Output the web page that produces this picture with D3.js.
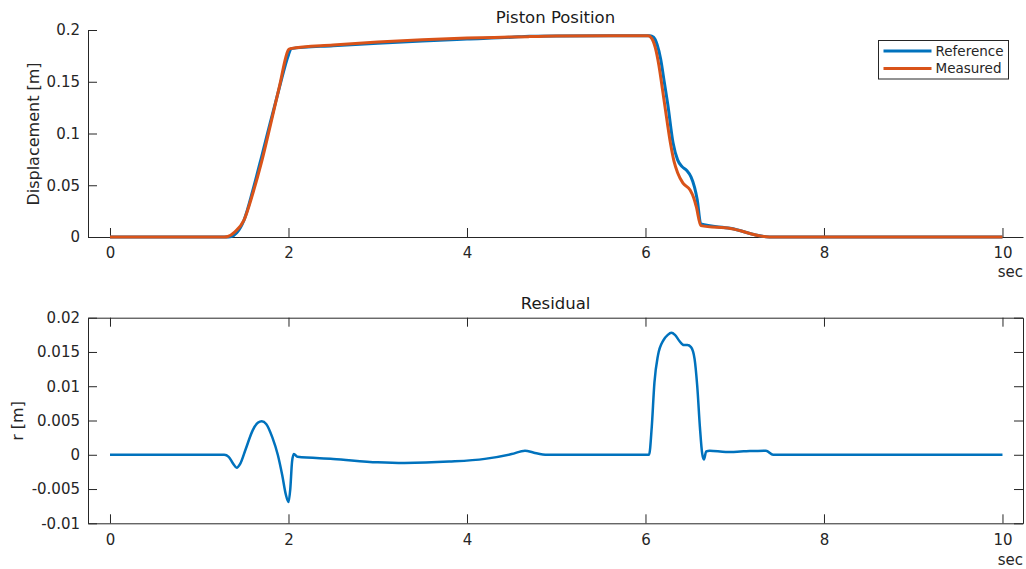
<!DOCTYPE html>
<html>
<head>
<meta charset="utf-8">
<script src="https://cdn.jsdelivr.net/npm/d3@7"></script>
<style>
  body { margin: 0; background: #fff; }
  text { font-family: "DejaVu Sans", sans-serif; fill: #262626; }
  .axis path, .axis line { stroke: #262626; }
  .axis text { font-size: 15px; fill: #262626; }
</style>
</head>
<body>
<div id="chart"></div>
<script>
// reference piston position
var refTime = [0, 1.30, 1.36, 1.42, 1.50, 1.60, 1.70, 1.80, 1.90, 2.00, 2.03, 2.5, 3.0, 3.5, 4.0, 4.5, 4.7, 5.0, 6.05, 6.09, 6.13, 6.17, 6.21, 6.25, 6.31, 6.36, 6.41, 6.46, 6.51, 6.55, 6.58, 6.62, 6.95, 7.39, 10];
var refPos = [0, 0, 0.0005, 0.004, 0.016, 0.045, 0.078, 0.112, 0.145, 0.176, 0.182, 0.1848, 0.1872, 0.1893, 0.1912, 0.1930, 0.1940, 0.1943, 0.1945, 0.193, 0.186, 0.172, 0.150, 0.128, 0.0905, 0.0745, 0.068, 0.0645, 0.058, 0.048, 0.036, 0.0125, 0.0084, 0, 0];

// measured piston position
var measTime = [0, 1.28, 1.32, 1.40, 1.50, 1.60, 1.70, 1.80, 1.90, 2.00, 2.02, 2.5, 3.0, 3.5, 4.0, 4.5, 4.7, 5.0, 6.03, 6.07, 6.11, 6.15, 6.19, 6.22, 6.28, 6.32, 6.36, 6.42, 6.50, 6.54, 6.57, 6.62, 6.95, 7.39, 10];
var measPos = [0, 0, 0.0005, 0.005, 0.016, 0.042, 0.073, 0.109, 0.146, 0.181, 0.182, 0.1855, 0.1884, 0.1905, 0.1922, 0.1932, 0.1936, 0.1942, 0.1945, 0.192, 0.183, 0.166, 0.143, 0.125, 0.0905, 0.073, 0.062, 0.052, 0.0454, 0.038, 0.029, 0.011, 0.0082, 0, 0];

// residual r = reference - measured
var resTime = [0, 1.28, 1.33, 1.38, 1.42, 1.46, 1.52, 1.60, 1.66, 1.70, 1.75, 1.82, 1.88, 1.93, 1.97, 2.00, 2.02, 2.04, 2.06, 2.10, 2.5, 3.0, 3.3, 3.8, 4.2, 4.5, 4.65, 4.75, 4.9, 6.04, 6.07, 6.10, 6.14, 6.20, 6.25, 6.29, 6.33, 6.38, 6.43, 6.47, 6.51, 6.55, 6.58, 6.61, 6.635, 6.655, 6.68, 6.72, 6.9, 7.1, 7.35, 7.43, 10];
var resVal = [0, 0, -0.0003, -0.0013, -0.0019, -0.0013, 0.0008, 0.0036, 0.0047, 0.0049, 0.0045, 0.0025, 0.0000, -0.003, -0.0058, -0.0069, -0.005, -0.001, 0.0001, -0.0003, -0.0006, -0.0011, -0.0012, -0.001, -0.0006, 0.0001, 0.0006, 0.0003, 0, 0, 0.004, 0.0105, 0.0145, 0.0167, 0.0175, 0.0178, 0.0175, 0.0166, 0.016, 0.016, 0.0157, 0.014, 0.010, 0.004, 0.0002, -0.0007, 0.0005, 0.0006, 0.0004, 0.0005, 0.0006, 0, 0];

var xTicks = [0, 2, 4, 6, 8, 10];
var posTicks = [0, 0.05, 0.1, 0.15, 0.2];
var posTickLabels = ['0', '0.05', '0.1', '0.15', '0.2'];
var resTicks = [-0.01, -0.005, 0, 0.005, 0.01, 0.015, 0.02];
var resTickLabels = ['-0.01', '-0.005', '0', '0.005', '0.01', '0.015', '0.02'];
var seriesNames = ['Reference', 'Measured'];

var width = 1026, height = 569;
var blue = '#0072BD', orange = '#D95319';

var svg = d3.select('#chart').append('svg')
    .attr('width', width).attr('height', height);

var x = d3.scaleLinear().domain([-0.2465, 10.23]).range([88, 1023]);
var yTop = d3.scaleLinear().domain([0, 0.2]).range([237, 30]);
var yBot = d3.scaleLinear().domain([-0.01, 0.02]).range([523.3, 317.7]);

function styleAxis(g) {
  g.attr('class', 'axis');
}

// ---- top: piston position ----
svg.append('g')
  .attr('transform', 'translate(0,237)')
  .call(d3.axisBottom(x).tickValues(xTicks).tickSize(-9).tickSizeOuter(0).tickPadding(10)
    .tickFormat(d3.format('d')))
  .call(styleAxis);

svg.append('g')
  .attr('transform', 'translate(88,0)')
  .call(d3.axisLeft(yTop).tickValues(posTicks).tickSize(-9).tickSizeOuter(0).tickPadding(8)
    .tickFormat(function(d, i) { return posTickLabels[i]; }))
  .call(styleAxis);

var lineTop = d3.line()
  .x(function(d) { return x(d[0]); })
  .y(function(d) { return yTop(d[1]); })
  .curve(d3.curveMonotoneX);

svg.append('path')
  .datum(d3.zip(refTime, refPos))
  .attr('d', lineTop)
  .attr('fill', 'none').attr('stroke', blue).attr('stroke-width', 3)
  .attr('stroke-linejoin', 'round');

svg.append('path')
  .datum(d3.zip(measTime, measPos))
  .attr('d', lineTop)
  .attr('fill', 'none').attr('stroke', orange).attr('stroke-width', 3)
  .attr('stroke-linejoin', 'round');

svg.append('text').attr('x', 555.5).attr('y', 22.5)
  .attr('text-anchor', 'middle').style('font-size', '16.5px').style('fill', '#1a1a1a')
  .text('Piston Position');

svg.append('text')
  .attr('transform', 'translate(38.5,134) rotate(-90)')
  .attr('text-anchor', 'middle').style('font-size', '16px')
  .text('Displacement [m]');

svg.append('text').attr('x', 1023).attr('y', 277)
  .attr('text-anchor', 'end').style('font-size', '15px')
  .text('sec');

// legend
var legend = svg.append('g');
legend.append('rect')
  .attr('x', 878.5).attr('y', 40.5).attr('width', 130).attr('height', 38.5)
  .attr('fill', '#fff').attr('stroke', '#262626').attr('stroke-width', 1);
seriesNames.forEach(function(name, i) {
  var ly = 51 + i * 17.6;
  legend.append('line')
    .attr('x1', 883.5).attr('x2', 931.5).attr('y1', ly).attr('y2', ly)
    .attr('stroke', i === 0 ? blue : orange).attr('stroke-width', 3);
  legend.append('text')
    .attr('x', 935.5).attr('y', ly + 4.8)
    .style('font-size', '13.5px')
    .text(name);
});

// ---- bottom: residual ----
svg.append('g')
  .attr('transform', 'translate(0,523.3)')
  .call(d3.axisBottom(x).tickValues(xTicks).tickSize(-9).tickSizeOuter(0).tickPadding(11.5)
    .tickFormat(d3.format('d')))
  .call(styleAxis);

svg.append('g')
  .attr('transform', 'translate(0,317.7)')
  .call(d3.axisTop(x).tickValues(xTicks).tickSize(-9).tickSizeOuter(0).tickFormat(''))
  .call(styleAxis);

svg.append('g')
  .attr('transform', 'translate(88,0)')
  .call(d3.axisLeft(yBot).tickValues(resTicks).tickSize(-9).tickSizeOuter(0).tickPadding(8)
    .tickFormat(function(d, i) { return resTickLabels[i]; }))
  .call(styleAxis);

svg.append('g')
  .attr('transform', 'translate(1023,0)')
  .call(d3.axisRight(yBot).tickValues(resTicks).tickSize(-9).tickSizeOuter(0).tickFormat(''))
  .call(styleAxis);

var lineRes = d3.line()
  .x(function(d) { return x(d[0]); })
  .y(function(d) { return yBot(d[1]); })
  .curve(d3.curveMonotoneX);

svg.append('path')
  .datum(d3.zip(resTime, resVal))
  .attr('d', lineRes)
  .attr('fill', 'none').attr('stroke', blue).attr('stroke-width', 2.5)
  .attr('stroke-linejoin', 'round');

svg.append('text').attr('x', 555.5).attr('y', 309)
  .attr('text-anchor', 'middle').style('font-size', '16.5px').style('fill', '#1a1a1a')
  .text('Residual');

svg.append('text')
  .attr('transform', 'translate(23,421) rotate(-90)')
  .attr('text-anchor', 'middle').style('font-size', '16px')
  .text('r [m]');

svg.append('text').attr('x', 1023).attr('y', 564.5)
  .attr('text-anchor', 'end').style('font-size', '15px')
  .text('sec');
</script>
</body>
</html>
